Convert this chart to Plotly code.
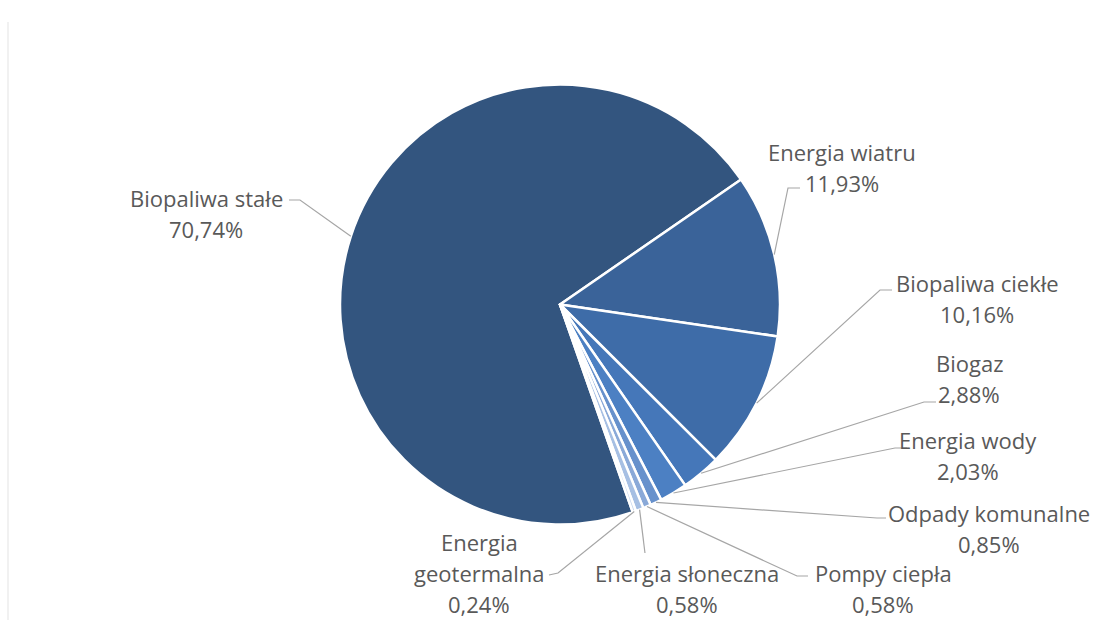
import math
import plotly.graph_objects as go

# Udział nośników energii odnawialnej (%)
labels = [
    "Biopaliwa stałe",
    "Energia wiatru",
    "Biopaliwa ciekłe",
    "Biogaz",
    "Energia wody",
    "Odpady komunalne",
    "Pompy ciepła",
    "Energia słoneczna",
    "Energia geotermalna",
]
values = [70.74, 11.93, 10.16, 2.88, 2.03, 0.85, 0.58, 0.58, 0.24]
colors = ["#33557f", "#3a6399", "#3e6ca8", "#4577b9", "#4c80c3",
          "#6791cc", "#8aa9d8", "#a6bfe3", "#c3d4ed"]

# label text lines (the value line is appended from `values`)
label_lines = [
    ["Biopaliwa stałe"],
    ["Energia wiatru"],
    ["Biopaliwa ciekłe"],
    ["Biogaz"],
    ["Energia wody"],
    ["Odpady komunalne"],
    ["Pompy ciepła"],
    ["Energia słoneczna"],
    ["Energia", "geotermalna"],
]

W, H = 1094, 620
CX, CY, R = 560, 304.5, 220
ROTATION = 160.7          # start angle of the first slice, clockwise from 12 o'clock
LINE_H = 31
FONT = "Open Sans"
FONT_SIZE = 22
TEXT_COLOR = "#595959"
LEADER_COLOR = "#a6a6a6"

# text block centre (x, y of first line) and leader route points, in pixels
label_pos = [
    (206, 198), (842, 152), (977, 283), (969, 363), (968, 440),
    (989, 513), (883, 573), (687, 573), (479, 542),
]
leader_route = [
    [(300, 200), (289, 200)],
    [(788, 188), (800, 188)],
    [(880, 290), (892, 290)],
    [(924, 402), (936, 402)],
    [(895, 448), (907, 448)],
    [(877, 518), (886, 518)],
    [(797, 576), (808, 576)],
    [(645, 553)],
    [(558, 573), (549, 575)],
]


def px(x):
    return x / W


def py(y):
    return 1 - y / H


fig = go.Figure(go.Pie(
    labels=labels,
    values=values,
    sort=False,
    direction="clockwise",
    rotation=ROTATION,
    marker=dict(colors=colors, line=dict(color="white", width=2.5)),
    textinfo="none",
    hoverinfo="label+percent",
    domain=dict(x=[px(CX - R), px(CX + R)], y=[py(CY + R), py(CY - R)]),
    showlegend=False,
))

annotations = []
shapes = []
total = sum(values)
angle = ROTATION
for name, v, lines, (tx, ty), route in zip(labels, values, label_lines,
                                           label_pos, leader_route):
    span = 360 * v / total
    mid = math.radians(angle + span / 2)
    angle += span
    ex = CX + R * math.sin(mid)
    ey = CY - R * math.cos(mid)

    pts = [(ex, ey)] + route
    path = "M {} {}".format(px(pts[0][0]), py(pts[0][1]))
    for (x, y) in pts[1:]:
        path += " L {} {}".format(px(x), py(y))
    shapes.append(dict(type="path", path=path, xref="paper", yref="paper",
                       line=dict(color=LEADER_COLOR, width=1.2)))

    text_lines = lines + ["{:.2f}%".format(v).replace(".", ",")]
    for i, t in enumerate(text_lines):
        annotations.append(dict(
            x=px(tx), y=py(ty + i * LINE_H), xref="paper", yref="paper",
            text=t, showarrow=False, xanchor="center", yanchor="middle",
            font=dict(family=FONT, size=FONT_SIZE, color=TEXT_COLOR),
        ))

# thin frame line on the left
shapes.append(dict(type="line", xref="paper", yref="paper",
                   x0=px(8), x1=px(8), y0=py(22), y1=0,
                   line=dict(color="#ececec", width=1.5)))

fig.update_layout(
    width=W, height=H,
    margin=dict(l=0, r=0, t=0, b=0),
    paper_bgcolor="white",
    plot_bgcolor="white",
    annotations=annotations,
    shapes=shapes,
)

fig.write_html("out.html")
